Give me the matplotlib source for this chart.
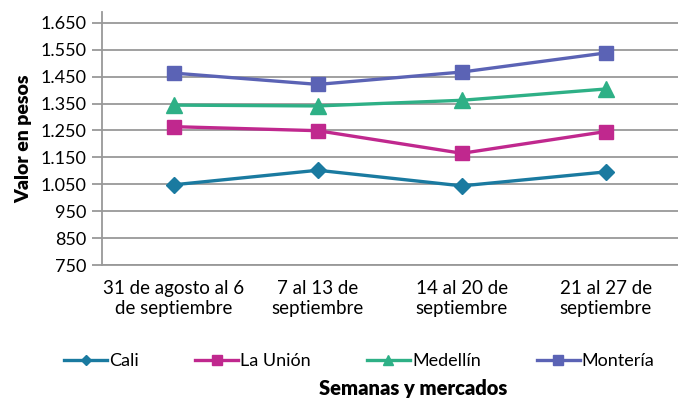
import matplotlib.pyplot as plt

# Data
semanas = ["31 de agosto al 6\nde septiembre", "7 al 13 de\nseptiembre",
           "14 al 20 de\nseptiembre", "21 al 27 de\nseptiembre"]
cali = [1048, 1102, 1044, 1096]
la_union = [1264, 1249, 1165, 1246]
medellin = [1344, 1341, 1362, 1404]
monteria = [1463, 1421, 1467, 1538]
y_ticks = [750, 850, 950, 1050, 1150, 1250, 1350, 1450, 1550, 1650]
y_labels = ["750", "850", "950", "1.050", "1.150", "1.250", "1.350", "1.450", "1.550", "1.650"]

plt.rcParams['font.family'] = ['Lato', 'DejaVu Sans']

fig = plt.figure(figsize=(6.78, 4.0), dpi=100)
ax = fig.add_axes([0.150, 0.3375, 0.85, 0.6325])

x = range(len(semanas))
ax.plot(x, cali, color="#1a7aa0", lw=2.4, marker="D", ms=8, label="Cali")
ax.plot(x, la_union, color="#c0288e", lw=2.4, marker="s", ms=10.5, label="La Unión")
ax.plot(x, medellin, color="#2eb086", lw=2.4, marker="^", ms=11, label="Medellín")
ax.plot(x, monteria, color="#5b63b5", lw=2.4, marker="s", ms=10.5, label="Montería")

ax.set_xlim(-0.5, 3.5)
ax.set_ylim(750, 1690)
ax.set_yticks(y_ticks)
ax.set_yticklabels(y_labels)
ax.set_xticks(list(x))
ax.set_xticklabels(semanas)
ax.yaxis.grid(True, color="#999999", lw=1.3)
ax.set_axisbelow(True)

for s in ["top", "right"]:
    ax.spines[s].set_visible(False)
ax.spines["left"].set_color("#999999")
ax.spines["bottom"].set_color("#999999")
ax.spines["left"].set_linewidth(1.3)
ax.spines["bottom"].set_linewidth(1.3)
ax.tick_params(axis="y", length=7, color="#999999", width=1.3, labelsize=13, pad=4)
ax.tick_params(axis="x", length=0, labelsize=13.5, pad=11)

ax.set_ylabel("Valor en pesos", fontsize=14, fontweight="heavy", labelpad=6)
fig.text(0.61, 0.03, "Semanas y mercados", ha="center", va="center",
         fontsize=14.5, fontweight="heavy")

fig.legend(loc="center", bbox_to_anchor=(0.53, 0.0975), ncol=4, frameon=False,
           fontsize=13, handlelength=2.4, handletextpad=0.1, columnspacing=3.1,
           markerscale=0.7)

fig.savefig("out.png", dpi=100)
